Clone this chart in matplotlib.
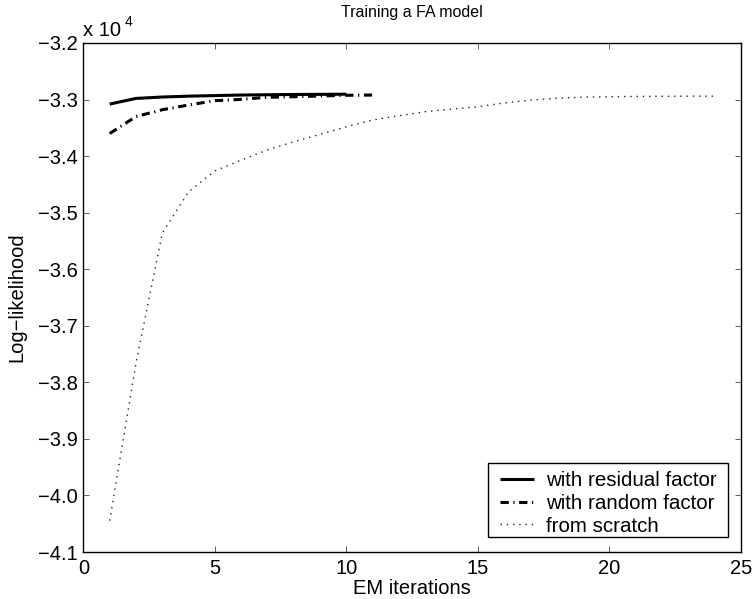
import matplotlib
matplotlib.use("Agg")
import matplotlib.pyplot as plt
from matplotlib.patches import Rectangle
from matplotlib.ticker import FuncFormatter

plt.rcParams['font.family'] = ['Liberation Sans', 'DejaVu Sans']
plt.rcParams['font.size'] = 14.5

# EM iterations for each run
iters_residual = list(range(1, 11))
iters_random = list(range(1, 12))
iters_scratch = list(range(1, 25))

# log-likelihood values
ll_residual = [-33080, -32980, -32955, -32940, -32930, -32920,
               -32915, -32910, -32908, -32905]
ll_random = [-33600, -33300, -33180, -33096, -33020, -32996,
             -32960, -32950, -32937, -32925, -32920]
ll_scratch = [-40446, -37658, -35360, -34630, -34260, -34070,
              -33890, -33745, -33615, -33480, -33360, -33285,
              -33214, -33170, -33126, -33060, -33010, -32976,
              -32958, -32950, -32945, -32942, -32940, -32940]

labels = ['with residual factor', 'with random factor', 'from scratch']
y_ticks = [-32000, -33000, -34000, -35000, -36000, -37000, -38000, -39000, -40000, -41000]
x_ticks = [0, 5, 10, 15, 20, 25]

W, H = 756, 599
fig = plt.figure(figsize=(W / 100, H / 100), dpi=100)
ax = fig.add_axes([83.4 / W, 1 - 552 / H, (741 - 83.4) / W, (552 - 43) / H])

ax.plot(iters_residual, ll_residual, color='black', lw=2.2, solid_capstyle='butt',
        label=labels[0])
ax.plot(iters_random, ll_random, color='black', lw=2.2,
        linestyle=(0, (2.7, 1.5, 0.4, 1.5)), dash_capstyle='butt', label=labels[1])
ax.plot(iters_scratch, ll_scratch, color='#222222', lw=1.0,
        linestyle=(0, (1.0, 3.5)), dash_capstyle='butt', label=labels[2])

ax.set_xlim(0, 25)
ax.set_ylim(-41000, -32000)
ax.set_xticks(x_ticks)
ax.set_yticks(y_ticks)
ax.yaxis.set_major_formatter(FuncFormatter(lambda v, p: f"{v / 1e4:.1f}".replace('-', '\u2212')))

ax.tick_params(direction='in', length=4.3, width=0.6, color='#444444',
               top=True, right=True, pad=4)
ax.tick_params(axis='x', pad=5)
for s in ax.spines.values():
    s.set_linewidth(1.0)

fig.text(0.5 * (83.4 + 741) / W, 1 - 13 / H, 'Training a FA model',
         fontsize=11.5, ha='center', va='center')
fig.text(0.5 * (83.4 + 741) / W, 1 - 594 / H, 'EM iterations',
         ha='center', va='baseline')
ax.set_ylabel('Log\u2212likelihood')
ax.yaxis.set_label_coords(-0.087, 0.5)

fig.text(83 / W, 1 - 31 / H, 'x 10', fontsize=14.5, ha='left', va='center')
fig.text(125 / W, 1 - 22.5 / H, '4', fontsize=10, ha='left', va='center')

# legend box drawn separately so its padding can differ per side
frame = Rectangle((487.7 / W, 1 - 537.3 / H), 240.6 / W, 74 / H,
                  transform=fig.transFigure, facecolor='white',
                  edgecolor='black', lw=1.0, zorder=4)
fig.add_artist(frame)
leg = ax.legend(loc='lower right', bbox_to_anchor=(717 / W, 1 - 535.5 / H),
                bbox_transform=fig.transFigure, borderaxespad=0, borderpad=0,
                frameon=False, fontsize=14.8, handlelength=1.65,
                handletextpad=0.6, labelspacing=0.18)
leg.set_zorder(5)
fig.legends.append(leg)
ax.get_legend().remove()

fig.savefig('out.png', dpi=100)
